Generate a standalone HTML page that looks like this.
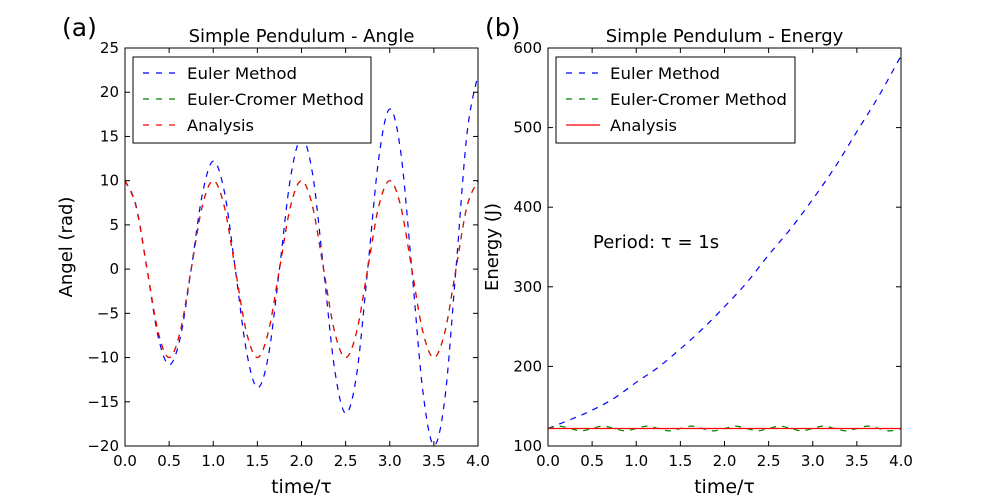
<!DOCTYPE html>
<html><head><meta charset="utf-8"><style>
body{margin:0;background:#fff;}
svg{display:block;font-family:"DejaVu Sans","Liberation Sans",sans-serif;}
</style></head><body>
<svg id="fig" width="1000" height="496" xmlns="http://www.w3.org/2000/svg"></svg>
<script>
const timeA = [0,0.125,0.25,0.375,0.5,0.625,0.75,0.875,1,1.125,1.25,1.375,1.5,1.625,1.75,1.875,2,2.125,2.25,2.375,2.5,2.625,2.75,2.875,3,3.125,3.25,3.375,3.5,3.625,3.75,3.875,4];
const eulerAngle = [10,7.2,0,-7.6,-10.8,-7.8,0,8.4,12.2,8.8,0,-9.2,-13.4,-9.8,0,10.3,14.8,10.8,0,-11.3,-16.3,-11.9,0,12.5,18.1,13.2,0,-13.8,-19.9,-14.6,0,15.3,22];
const cromerAngle = [10,7.1,0,-7.1,-10,-7.1,0,7.1,10,7.1,0,-7.1,-10,-7.1,0,7.1,10,7.1,0,-7.1,-10,-7.1,0,7.1,10,7.1,0,-7.1,-10,-7.1,0,7.1,10];
const analysisAngle = [10,7.07,0,-7.07,-10,-7.07,0,7.07,10,7.07,0,-7.07,-10,-7.07,0,7.07,10,7.07,0,-7.07,-10,-7.07,0,7.07,10,7.07,0,-7.07,-10,-7.07,0,7.07,10];
const timeE = [0,0.25,0.5,0.75,1,1.25,1.5,1.75,2,2.25,2.5,2.75,3,3.25,3.5,3.75,4];
const eulerEnergy = [122,133,145,160,180,199,222,247,275,305,340,373,410,450,495,540,590];
const cromerEnergy = [122,125,122,119,122,125,122,119,122,125,122,119,122,125,122,119,122,125,122,119,122,125,122,119,122,125,122,119,122,125,122,119,122];
const analysisEnergy = [122,122];
const timeFlat = [0,4];
const xTicks = [0,0.5,1,1.5,2,2.5,3,3.5,4];
const yTicksA = [-20,-15,-10,-5,0,5,10,15,20,25];
const yTicksE = [100,200,300,400,500,600];

const NS="http://www.w3.org/2000/svg";
const svg=document.getElementById('fig');
function mk(tag,attrs,parent){const e=document.createElementNS(NS,tag);for(const k in attrs)e.setAttribute(k,attrs[k]);(parent||svg).appendChild(e);return e;}
function fmt(v){return (v<0?'\u2212':'')+Math.abs(v);}
function smooth(pts){let d='M'+pts[0][0]+','+pts[0][1];for(let i=0;i<pts.length-1;i++){const p0=pts[Math.max(0,i-1)],p1=pts[i],p2=pts[i+1],p3=pts[Math.min(pts.length-1,i+2)];const c1=[p1[0]+(p2[0]-p0[0])/6,p1[1]+(p2[1]-p0[1])/6],c2=[p2[0]-(p3[0]-p1[0])/6,p2[1]-(p3[1]-p1[1])/6];d+=' C'+c1+' '+c2+' '+p2;}return d;}

function panel(cfg){
  const L=cfg.x0,R=cfg.x1,T=48,B=446;
  const sx=v=>L+(v-0)/4*(R-L);
  const sy=v=>B-(v-cfg.ymin)/(cfg.ymax-cfg.ymin)*(B-T);
  const g=mk('g',{});
  
  
  const clipId='clip'+cfg.name;
  const cp=mk('clipPath',{id:clipId},g);mk('rect',{x:L,y:T,width:R-L,height:B-T},cp);
  const sg=mk('g',{'clip-path':'url(#'+clipId+')'},g);
  cfg.series.forEach(s=>{
    const pts=s.x.map((t,i)=>[sx(t),sy(s.y[i])]);
    const p=mk('path',{d:smooth(pts),fill:'none',stroke:s.color,'stroke-width':1.2,'stroke-dasharray':s.dash?'6,6':'none'},sg);
    
    
  });
  const fr=mk('rect',{x:L,y:T,width:R-L,height:B-T,fill:'none',stroke:'#000','stroke-width':1},g);
  
  
  xTicks.forEach(v=>{const x=sx(v);
    mk('line',{x1:x,x2:x,y1:B,y2:B-5,stroke:'#000'},g);mk('line',{x1:x,x2:x,y1:T,y2:T+5,stroke:'#000'},g);
    const t=mk('text',{x:x,y:B+20,'font-size':15,'text-anchor':'middle'},g);t.textContent=v.toFixed(1);
    
    });
  cfg.yTicks.forEach(v=>{const y=sy(v);
    mk('line',{x1:L,x2:L+5,y1:y,y2:y,stroke:'#000'},g);mk('line',{x1:R,x2:R-5,y1:y,y2:y,stroke:'#000'},g);
    const t=mk('text',{x:L-6,y:y+5,'font-size':15,'text-anchor':'end'},g);t.textContent=fmt(v);
    
    });
  const ti=mk('text',{x:(L+R)/2,y:42,'font-size':18,'text-anchor':'middle'},g);ti.textContent=cfg.title;
  
  
  const xl=mk('text',{x:(L+R)/2,y:493,'font-size':19,'text-anchor':'middle'},g);xl.textContent='time/\u03c4';
  
  
  const yl=mk('text',{x:0,y:0,'font-size':18,'text-anchor':'middle',transform:'translate('+cfg.ylx+','+((T+B)/2)+') rotate(-90)'},g);yl.textContent=cfg.ylabel;
  
  
  const pl=mk('text',{x:cfg.plx,y:36,'font-size':25},g);pl.textContent=cfg.panelLabel;
  
  
  const lg=mk('g',{},g);
  
  
  const lx=L+8;
  mk('rect',{x:lx,y:57,width:cfg.legW,height:86,fill:'#fff',stroke:'#000','stroke-width':1},lg);
  cfg.series.forEach((s,i)=>{const y=73+i*26;
    const ln=mk('line',{x1:lx+10,x2:lx+44,y1:y,y2:y,stroke:s.color,'stroke-width':1.2,'stroke-dasharray':s.dash?'6,7':'none'},lg);
    
    
    const t=mk('text',{x:lx+54,y:y+6,'font-size':16,textLength:s.tl,lengthAdjust:'spacingAndGlyphs'},lg);t.textContent=s.label;
    
    });
  return {sx,sy,g};
}

panel({name:'angle-panel',x0:125,x1:478,ymin:-20,ymax:25,yTicks:yTicksA,title:'Simple Pendulum - Angle',ylabel:'Angel (rad)',ylx:72,plx:62,panelLabel:'(a)',legW:238,
  series:[{name:'euler-angle-line',label:'Euler Method',x:timeA,y:eulerAngle,color:'#0000ff',dash:true,tl:110},
          {name:'euler-cromer-angle-line',label:'Euler-Cromer Method',x:timeA,y:cromerAngle,color:'#008000',dash:true,tl:177},
          {name:'analysis-angle-line',label:'Analysis',x:timeA,y:analysisAngle,color:'#ff0000',dash:true,tl:67}]});
const timeC=cromerEnergy.map((_,i)=>i*0.125);
panel({name:'energy-panel',x0:548,x1:901,ymin:100,ymax:600,yTicks:yTicksE,title:'Simple Pendulum - Energy',ylabel:'Energy (J)',ylx:498,plx:485,panelLabel:'(b)',legW:239,
  series:[{name:'euler-energy-line',label:'Euler Method',x:timeE,y:eulerEnergy,color:'#0000ff',dash:true,tl:110},
          {name:'euler-cromer-energy-line',label:'Euler-Cromer Method',x:timeC,y:cromerEnergy,color:'#008000',dash:true,tl:177},
          {name:'analysis-energy-line',label:'Analysis',x:timeFlat,y:analysisEnergy,color:'#ff0000',dash:false,tl:67}]});
const an=mk('text',{x:593,y:248,'font-size':18,'xml:space':'preserve'});an.textContent='Period:  \u03c4 = 1s';


</script>
</body></html>
